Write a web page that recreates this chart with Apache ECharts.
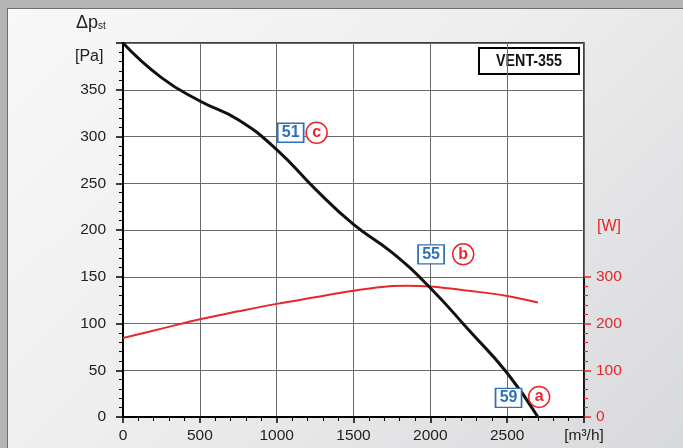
<!DOCTYPE html>
<html>
<head>
<meta charset="utf-8">
<script src="https://cdn.jsdelivr.net/npm/echarts@6/dist/echarts.min.js"></script>
<style>
html,body{margin:0;padding:0;width:683px;height:448px;overflow:hidden;background:#b3b4b6;}
#panel{position:absolute;left:7px;top:8px;width:676px;height:440px;border-left:1px solid #6e6e6e;border-top:1px solid #6e6e6e;background:linear-gradient(135deg,#f8f8f8 0%,#eeeeef 45%,#d8d9db 100%);}
#chart{position:absolute;left:0;top:0;width:683px;height:448px;}
</style>
</head>
<body>
<div id="panel"></div>
<div id="chart"></div>
<script>
// Pressure curve (Pa) vs flow (m³/h)
const pFlow = [0,250,500,750,1000,1250,1500,1750,2000,2250,2500,2700];
const pVals = [400,363,338,318,286,244,206,176,138,93,47,0];
// Power curve (W) vs flow
const wFlow = [0,250,500,750,1000,1250,1500,1750,1850,2000,2250,2500,2700];
const wVals = [169,189,209,226,242,256,270,280,281,279,270,259,245];
// Noise-level boxes and operating point markers
const boxFlow = [1091,2005,2509];
const boxPa = [304,174,20.5];
const boxText = ['51','55','59'];
const circFlow = [1260,2214,2708];
const circPa = [304,174,21.5];
const circText = ['c','b','a'];

const FONT = "'Liberation Sans',Arial,sans-serif";
const TXT = '#222';
const RED = '#e8262c';
const BLUE = '#2e70b8';

const zip = (a,b)=>a.map((v,i)=>[v,b[i]]);

const chart = echarts.init(document.getElementById('chart'), null, {renderer:'canvas'});
chart.setOption({
  animation:false,
  textStyle:{fontFamily:FONT},
  grid:[
    {left:123, right:99, top:43, bottom:31, show:true, backgroundColor:'#fff', borderColor:'#000', borderWidth:1.5},
    {left:123, right:99, top:276.75, bottom:31, show:false}
  ],
  xAxis:[
    {gridIndex:0, type:'value', min:0, max:3000, interval:500,
     axisLine:{onZero:false, lineStyle:{color:'#000', width:2}},
     axisTick:{length:6, lineStyle:{color:'#000', width:1.5}},
     minorTick:{show:true, splitNumber:5, length:4, lineStyle:{color:'#000', width:1}},
     splitLine:{show:true, lineStyle:{color:'#6a6a6a', width:1}},
     axisLabel:{margin:11, fontSize:15.5, color:TXT, fontFamily:FONT,
       formatter:v=> v===3000 ? '[m³/h]' : String(v)}},
    {gridIndex:1, type:'value', min:0, max:3000, show:false}
  ],
  yAxis:[
    {gridIndex:0, type:'value', min:0, max:400, interval:50,
     axisLine:{show:true, onZero:false, lineStyle:{color:'#000', width:2}},
     axisTick:{show:true, length:7, lineStyle:{color:'#000', width:1.5}},
     minorTick:{show:true, splitNumber:5, length:4, lineStyle:{color:'#000', width:1}},
     splitLine:{show:true, lineStyle:{color:'#6a6a6a', width:1}},
     axisLabel:{margin:17, fontSize:15.5, color:TXT, fontFamily:FONT,
       formatter:v=> v===400 ? '' : String(v)}},
    {gridIndex:1, type:'value', position:'right', min:0, max:300, interval:100,
     axisLine:{show:true, onZero:false, lineStyle:{color:'#000', width:1.5}},
     axisTick:{show:true, length:7, lineStyle:{color:RED, width:1.5}},
     minorTick:{show:true, splitNumber:5, length:4, lineStyle:{color:RED, width:1.2}},
     splitLine:{show:false},
     axisLabel:{margin:12, fontSize:15.5, color:RED, fontFamily:FONT}}
  ],
  graphic:[
    {type:'text', left:76, top:14, style:{rich:{a:{fontSize:18, fontFamily:FONT, fill:TXT}, s:{fontSize:10, fontFamily:FONT, fill:TXT, padding:[7,0,0,0]}}, text:'{a|Δp}{s|st}'}},
    {type:'text', left:75, top:49, style:{text:'[Pa]', fontSize:16, fontFamily:FONT, fill:TXT}},
    {type:'text', left:597, top:219, style:{text:'[W]', fontSize:16, fontFamily:FONT, fill:RED}},
    {type:'group', left:478, top:47, children:[
      {type:'rect', shape:{x:0,y:0,width:100,height:26}, style:{fill:'#fff', stroke:'#000', lineWidth:2}},
      {type:'text', x:50, y:13.5, scaleX:0.84, style:{text:'VENT-355', fontSize:17, fontWeight:'bold', fontFamily:FONT, fill:'#111', align:'center', verticalAlign:'middle'}}
    ]}
  ],
  series:[
    {type:'line', xAxisIndex:1, yAxisIndex:1, data:zip(wFlow,wVals), smooth:0.4, symbol:'none',
     lineStyle:{color:RED, width:2}, z:3},
    {type:'line', xAxisIndex:0, yAxisIndex:0, data:zip(pFlow,pVals), smooth:0.5, symbol:'none',
     lineStyle:{color:'#111', width:3}, z:4},
    {type:'scatter', xAxisIndex:0, yAxisIndex:0, data:zip(boxFlow,boxPa).map((d,i)=>({value:d, name:boxText[i]})),
     symbol:'rect', symbolSize:[26,19], z:6,
     itemStyle:{color:'#fff', borderColor:BLUE, borderWidth:1.5, opacity:1},
     label:{show:true, position:'inside', formatter:p=>p.name, color:BLUE, fontSize:16, fontWeight:'bold', fontFamily:FONT}},
    {type:'scatter', xAxisIndex:0, yAxisIndex:0, data:zip(circFlow,circPa).map((d,i)=>({value:d, name:circText[i]})),
     symbol:'circle', symbolSize:21, z:6,
     itemStyle:{color:'#fff', borderColor:RED, borderWidth:1.5, opacity:1},
     label:{show:true, position:'inside', formatter:p=>p.name, color:RED, fontSize:16, fontWeight:'bold', fontFamily:FONT, padding:[0,0,2,0]}}
  ]
});
</script>
</body>
</html>
